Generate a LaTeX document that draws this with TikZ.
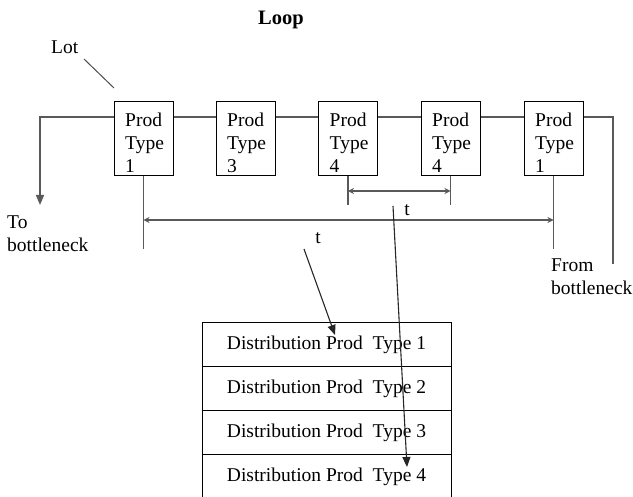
\documentclass[tikz,border=0pt]{standalone}
\usepackage{fontspec}
\setmainfont{Liberation Serif}
\usetikzlibrary{arrows.meta,calc}
\begin{document}
\begin{tikzpicture}[x=1pt,y=-1pt,
  txt/.style={font=\fontsize{19.5}{23}\selectfont, inner sep=0pt, align=left},
  pbox/.style={draw=black, line width=1pt, minimum width=59pt, minimum height=74pt, inner sep=0pt},
  conn/.style={draw=black!65, line width=1.3pt},
  tarrow/.style={conn, {Stealth[length=6pt,width=6pt]}-{Stealth[length=6pt,width=6pt]}},
  downarrow/.style={conn, -{Triangle[length=10pt,width=8pt]}},
  feed/.style={draw=black!85, line width=1.1pt, -{Triangle[length=10pt,width=8pt]}},
  tabrow/.style={draw=black, line width=1pt, minimum width=249pt, minimum height=44pt, inner sep=0pt, font=\fontsize{19.5}{23}\selectfont}
]
\useasboundingbox (0,0) rectangle (633,497);

% title and lot label
\node[txt, font=\fontsize{20.5}{24}\selectfont\bfseries, anchor=base] (title) at (281,25) {Loop};
\node[txt, anchor=base west] (lot) at (51,54) {Lot};
\coordinate (lotA) at (84,59);
\coordinate (lotB) at (114,88);
\draw[black!70, line width=1pt] (lotA) -- (lotB);

% product boxes
\node[pbox] (b1) at (143.5,139) {};
\node[pbox] (b2) at (245.5,139) {};
\node[pbox] (b3) at (348,139) {};
\node[pbox] (b4) at (450.5,139) {};
\node[pbox] (b5) at (553.5,139) {};
\node[txt, anchor=north west] (t1) at ([shift={(11.5,11)}]b1.north west) {Prod\\Type\\1};
\node[txt, anchor=north west] (t2) at ([shift={(11.5,11)}]b2.north west) {Prod\\Type\\3};
\node[txt, anchor=north west] (t3) at ([shift={(11.5,11)}]b3.north west) {Prod\\Type\\4};
\node[txt, anchor=north west] (t4) at ([shift={(11.5,11)}]b4.north west) {Prod\\Type\\4};
\node[txt, anchor=north west] (t5) at ([shift={(11.5,11)}]b5.north west) {Prod\\Type\\1};

% loop wire
\coordinate (wy) at (0,117);
\coordinate (toB) at (40,205);
\coordinate (fromB) at (613,264);
\draw[conn] (b1.east |- wy) -- (b2.west |- wy);
\draw[conn] (b2.east |- wy) -- (b3.west |- wy);
\draw[conn] (b3.east |- wy) -- (b4.west |- wy);
\draw[conn] (b4.east |- wy) -- (b5.west |- wy);
\draw[downarrow] (b1.west |- wy) -| (toB);
\draw[conn] (b5.east |- wy) -| (fromB);

\node[txt, anchor=north west] (tob) at (7,216) {To\\bottleneck};
\node[txt, anchor=north west] (fromb) at (551,259) {From\\bottleneck};

% time ticks
\coordinate (k1) at (b1.south |- 0,249);
\coordinate (k5) at (b5.south |- 0,249);
\coordinate (k3) at (b3.south |- 0,205);
\coordinate (k4) at (b4.south |- 0,205);
\draw[conn] (b1.south) -- (k1);
\draw[conn] (b5.south) -- (k5);
\draw[conn] (b3.south) -- (k3);
\draw[conn] (b4.south) -- (k4);
\draw[tarrow] (b1.south |- 0,220) -- (b5.south |- 0,220);
\draw[tarrow] (b3.south |- 0,191) -- (b4.south |- 0,191);

\node[txt, anchor=base] (tshort) at (407,216) {t};
\node[txt, anchor=base] (tlong) at (318,244) {t};

% distribution table
\node[tabrow] (r1) at (326.5,345) {Distribution Prod~~Type 1};
\node[tabrow] (r2) at (326.5,389) {Distribution Prod~~Type 2};
\node[tabrow] (r3) at (326.5,433) {Distribution Prod~~Type 3};
\node[tabrow] (r4) at (326.5,477) {Distribution Prod~~Type 4};

% feeds from t labels into table
\coordinate (fa) at (393,206);
\coordinate (fb) at (407,467);
\coordinate (ga) at (304,249);
\coordinate (gb) at (335,335);
\draw[feed] (fa) -- (fb);
\draw[feed] (ga) -- (gb);
\end{tikzpicture}
\end{document}
